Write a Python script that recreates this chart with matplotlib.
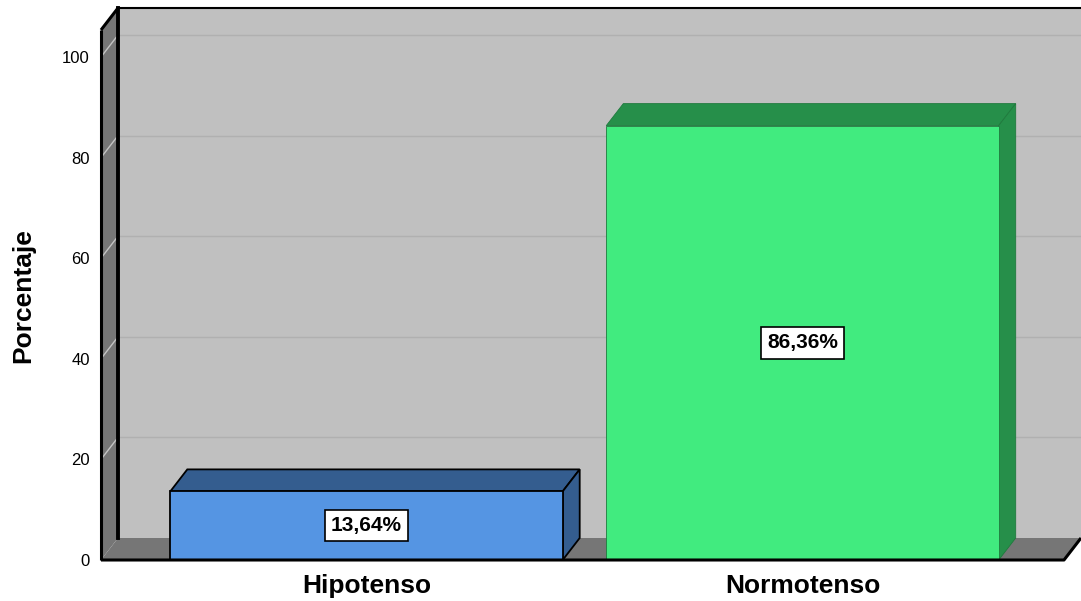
import matplotlib
matplotlib.use("Agg")
import matplotlib.pyplot as plt
from matplotlib.patches import Polygon, Rectangle

categories = ["Hipotenso", "Normotenso"]
values = [13.64, 86.36]
labels = ["13,64%", "86,36%"]
front_colors = ["#5595E3", "#41EB7F"]
dark_colors = ["#345D8F", "#268F4A"]
edge_colors = ["#000000", "#1F7A3D"]
yticks = [0, 20, 40, 60, 80, 100]

plt.rcParams['font.family'] = ['Liberation Sans', 'DejaVu Sans']

W, H = 1081, 601
fig = plt.figure(figsize=(W / 100, H / 100), dpi=100)
# axes spans front-bottom (y=0 at px 560) to top of back wall (px 8)
ax = fig.add_axes([101 / W, (H - 560) / H, 980 / W, 552 / H])

px_per_unit = 503 / 100
xunit = 436
xmin = (101 - 366.5) / xunit
xmax = (1081 - 366.5) / xunit
ytop = 552 / px_per_unit
ddx = 17 / xunit
ddy = 22 / px_per_unit
bw = 0.9

ax.set_xlim(xmin, xmax)
ax.set_ylim(0, ytop)
for s in ax.spines.values():
    s.set_visible(False)
ax.patch.set_visible(False)

# walls
ax.add_patch(Rectangle((xmin + ddx, ddy), xmax - xmin - ddx, ytop - ddy,
                       facecolor="#C0C0C0", edgecolor="none", zorder=0))
ax.add_patch(Polygon([(xmin, 0), (xmin + ddx, ddy), (xmin + ddx, ytop), (xmin, ytop - ddy)],
                     closed=True, facecolor="#767676", edgecolor="none", zorder=0))
ax.add_patch(Polygon([(xmin, 0), (xmax - ddx, 0), (xmax, ddy), (xmin + ddx, ddy)],
                     closed=True, facecolor="#767676", edgecolor="none", zorder=0))

# grid
for v in yticks[1:]:
    ax.plot([xmin + ddx, xmax], [v + ddy, v + ddy], color="#B0B0B0", lw=1, zorder=1)
    ax.plot([xmin, xmin + ddx], [v, v + ddy], color="#C4C4C4", lw=1, zorder=1)

# frame lines
k = dict(color="black", lw=2.2, zorder=5, clip_on=False, solid_capstyle="butt")
ax.plot([xmin, xmin], [0, ytop - ddy], **k)
ax.plot([xmin, xmin + ddx], [ytop - ddy, ytop], **k)
ax.plot([xmin + ddx, xmin + ddx], [ddy, ytop], color="black", lw=2.8, zorder=5, clip_on=False)
ax.plot([xmin + ddx, xmax], [ytop, ytop], color="black", lw=1.5, zorder=5, clip_on=False)
ax.plot([xmin, xmax - ddx, xmax], [0, 0, ddy], **k)

# bars
for i, v in enumerate(values):
    x0, x1 = i - bw / 2, i + bw / 2
    lw = 1.3 if i == 0 else 0.6
    ax.add_patch(Polygon([(x0, v), (x1, v), (x1 + ddx, v + ddy), (x0 + ddx, v + ddy)],
                         closed=True, facecolor=dark_colors[i], edgecolor=edge_colors[i], lw=lw, zorder=3))
    ax.add_patch(Polygon([(x1, 0), (x1 + ddx, ddy), (x1 + ddx, v + ddy), (x1, v)],
                         closed=True, facecolor=dark_colors[i], edgecolor=edge_colors[i], lw=lw, zorder=3))
    ax.add_patch(Rectangle((x0, 0), bw, v, facecolor=front_colors[i],
                           edgecolor=edge_colors[i], lw=lw, zorder=4))
    ax.text(i, v / 2, labels[i], ha="center", va="center", fontsize=15, fontweight="bold",
            family=['Liberation Sans Narrow', 'Liberation Sans', 'DejaVu Sans'], zorder=6,
            bbox=dict(boxstyle="square,pad=0.3", facecolor="white", edgecolor="black", lw=1.2))

ax.set_yticks(yticks)
ax.set_yticklabels([str(t) for t in yticks], fontsize=12)
ax.set_xticks(range(len(categories)))
ax.set_xticklabels(categories, fontsize=19, fontweight="bold")
ax.tick_params(axis="y", length=0, pad=8)
ax.tick_params(axis="x", length=0, pad=10)
ax.set_ylabel("Porcentaje", fontsize=19, fontweight="bold")
ax.yaxis.set_label_coords(-66 / 980, (560 - 296) / 552)

fig.savefig("out.png", dpi=100)
